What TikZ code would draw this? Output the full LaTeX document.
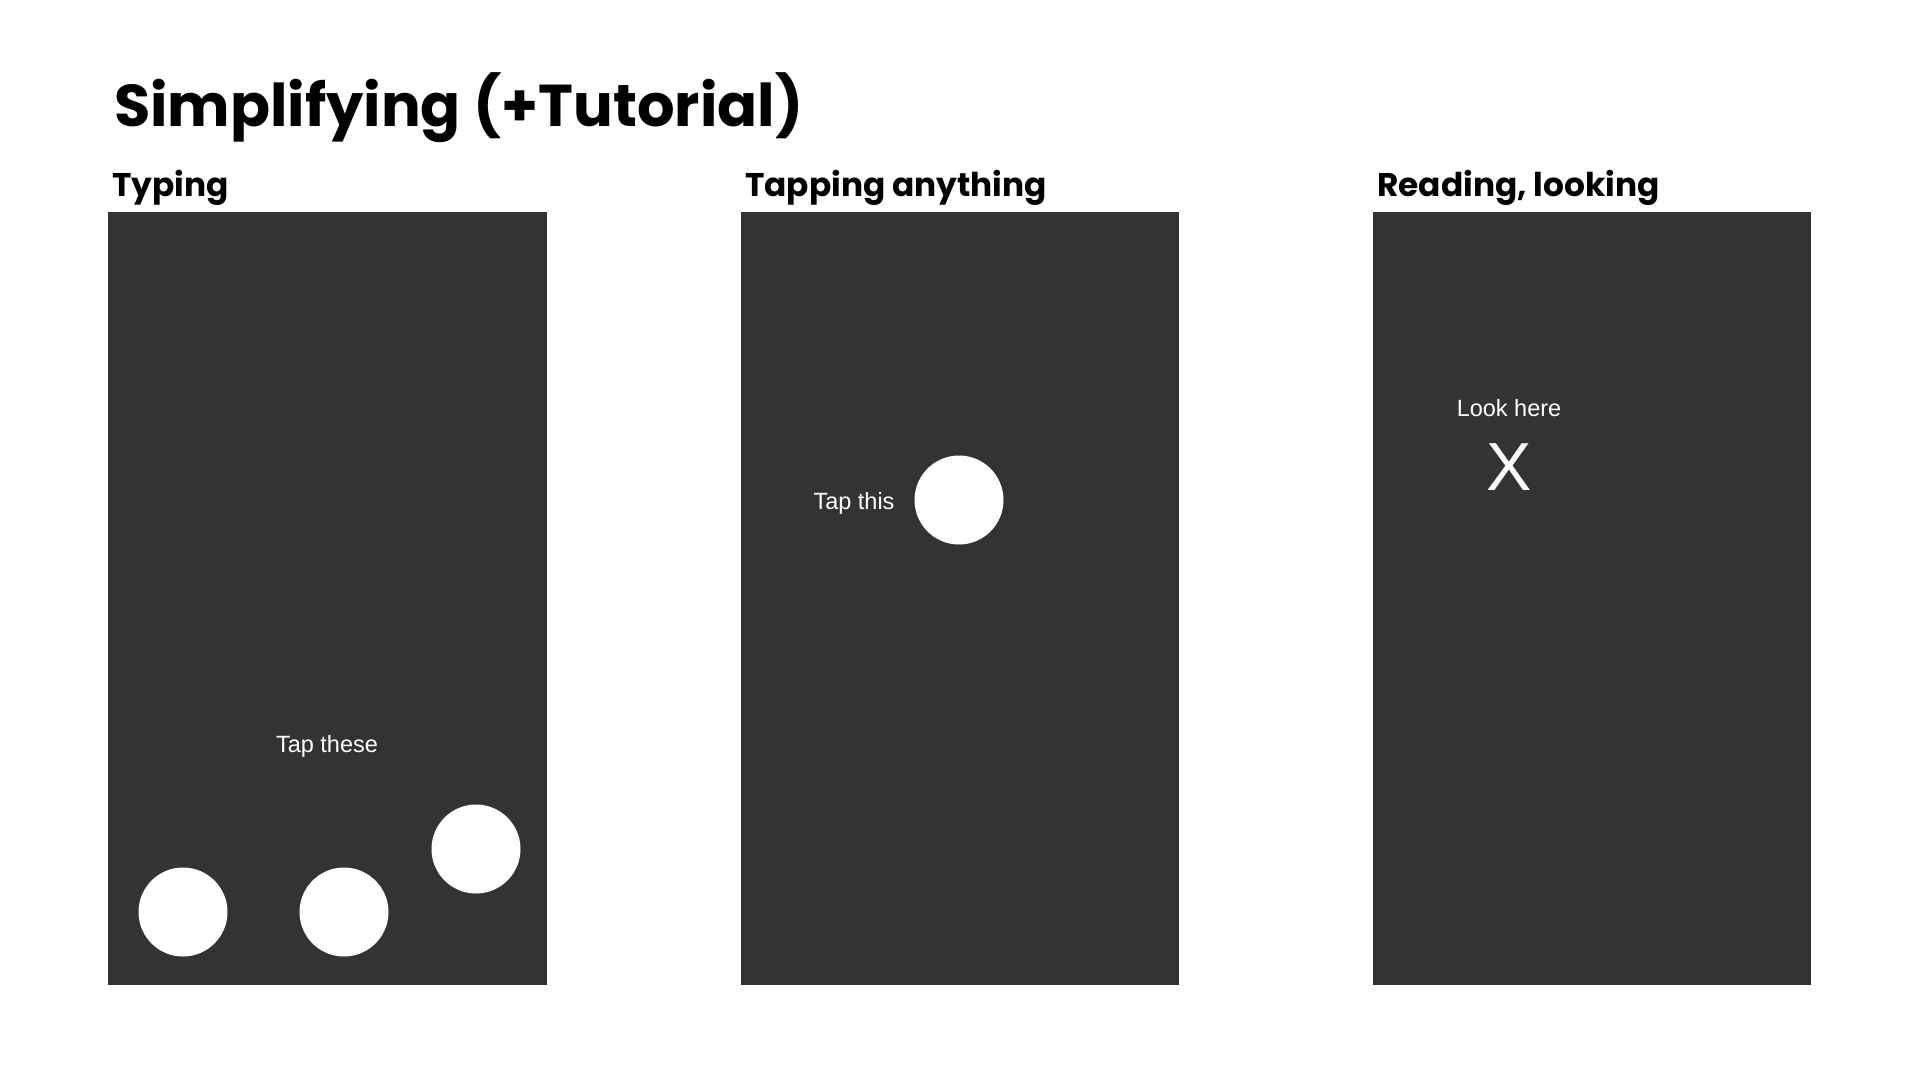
\documentclass[tikz,border=0pt]{standalone}
\usepackage{fontspec}
\setmainfont{Liberation Sans}
\newfontfamily\headfont{Poppins}
\definecolor{panel}{HTML}{333333}
\begin{document}
\begin{tikzpicture}[x=1pt,y=-1pt,
  panelbox/.style={fill=panel,draw=none},
  dot/.style={circle,fill=white,draw=none,minimum size=89pt,inner sep=0pt},
  heading/.style={anchor=base west,inner sep=0pt,font=\headfont\bfseries\fontsize{32.8}{36}\selectfont},
  label/.style={text=white,inner sep=0pt,font=\fontsize{23.5}{26}\selectfont}]
\useasboundingbox[fill=white] (0,0) rectangle (1920,1080);
\node[anchor=base west,inner sep=0pt,font=\headfont\bfseries\fontsize{59}{64}\selectfont] (title) at (114,126) {Simplifying (+Tutorial)};
\node[heading] (h1) at (112,196) {Typing};
\node[heading] (h2) at (745,196) {Tapping anything};
\node[heading] (h3) at (1377,196) {Reading, looking};
\path[panelbox] (108,212) rectangle (547,985);
\path[panelbox] (741,212) rectangle (1179,985);
\path[panelbox] (1373,212) rectangle (1811,985);
\node[label] (l1) at (327,746) {Tap these};
\node[dot] (c1) at (183,912) {};
\node[dot] (c2) at (344,912) {};
\node[dot] (c3) at (476,849) {};
\node[label] (l2) at (854,503) {Tap this};
\node[dot] (c4) at (959,500) {};
\node[label] (l3) at (1509,408) {Look here};
\node[text=white,inner sep=0pt,font=\fontsize{68}{72}\selectfont] (x) at (1509,467) {X};
\end{tikzpicture}
\end{document}
